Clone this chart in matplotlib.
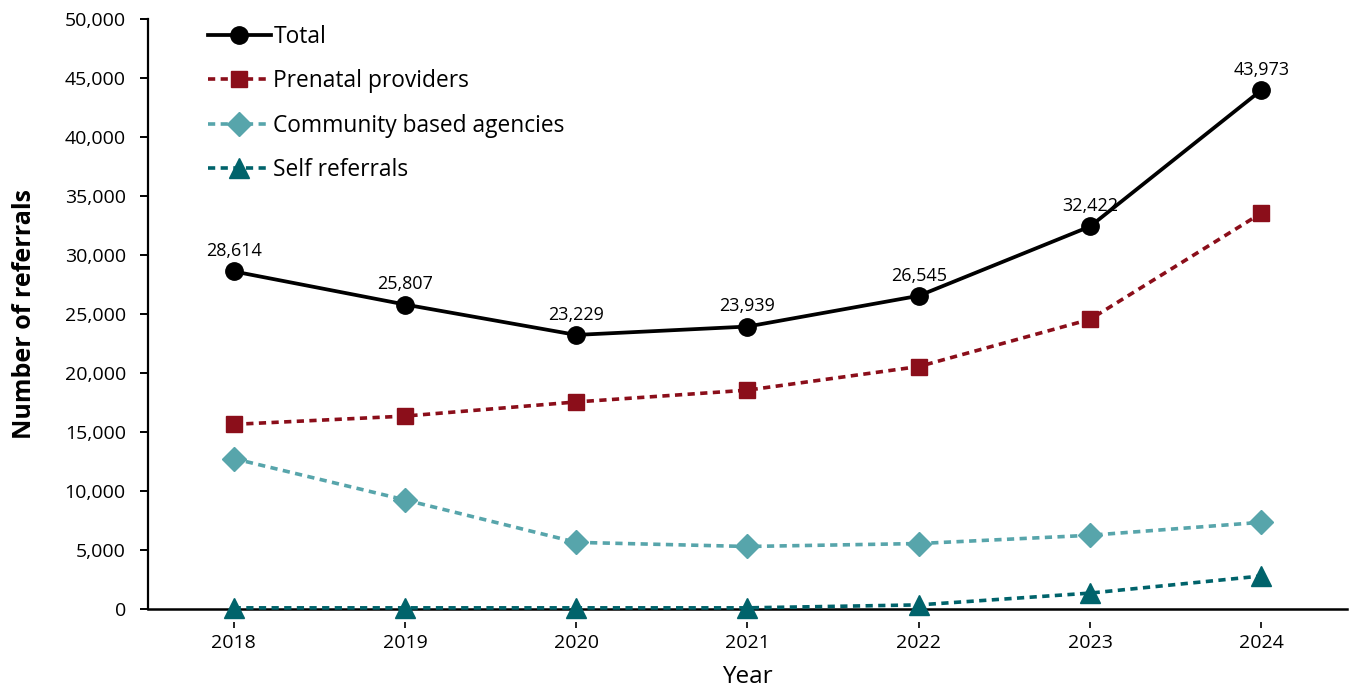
import matplotlib
matplotlib.use("Agg")
import matplotlib.pyplot as plt
from matplotlib.ticker import FuncFormatter, MultipleLocator

plt.rcParams['font.family'] = ['Open Sans', 'DejaVu Sans']

years = [2018, 2019, 2020, 2021, 2022, 2023, 2024]
total = [28614, 25807, 23229, 23939, 26545, 32422, 43973]
prenatal = [15650, 16350, 17550, 18550, 20550, 24550, 33550]
community = [12750, 9250, 5650, 5300, 5550, 6250, 7350]
self_referrals = [100, 100, 100, 100, 350, 1350, 2800]

c_total = "#000000"
c_prenatal = "#8B0E1A"
c_community = "#57A5AB"
c_self = "#00636B"

fig = plt.figure(figsize=(13.49, 6.87), dpi=100)
ax = fig.add_axes([0.1097, 0.1135, 0.8888, 0.8588])

dash = (0, (2.0, 1.5))
ax.plot(years, self_referrals, color=c_self, lw=2.6, ls=dash, marker="^",
        markersize=15, label="Self referrals", zorder=3, clip_on=False)
ax.plot(years, community, color=c_community, lw=2.6, ls=dash, marker="D",
        markersize=12, label="Community based agencies", zorder=3)
ax.plot(years, prenatal, color=c_prenatal, lw=2.6, ls=dash, marker="s",
        markersize=12, label="Prenatal providers", zorder=3)
ax.plot(years, total, color=c_total, lw=2.7, marker="o",
        markersize=12.5, label="Total", zorder=4)

for x, v in zip(years, total):
    ax.annotate(f"{v:,}", (x, v), xytext=(0, 8), textcoords="offset points",
                ha="center", va="bottom", fontsize=13)

ax.set_xlim(2017.5, 2024.5)
ax.set_ylim(0, 50000)
ax.yaxis.set_major_locator(MultipleLocator(5000))
ax.yaxis.set_major_formatter(FuncFormatter(lambda v, p: f"{int(v):,}"))
ax.set_xticks(years)

for s in ["top", "right"]:
    ax.spines[s].set_visible(False)
ax.spines["left"].set_linewidth(1.6)
# bottom spine shifted down so tick marks sit apart from the zero line
ax.spines["bottom"].set_position(("outward", 9))
ax.spines["bottom"].set_color("none")
ax.axhline(0, color="black", lw=1.8, zorder=2, clip_on=False)

ax.tick_params(axis="y", direction="out", length=6, width=1.4, labelsize=14, pad=10)
ax.tick_params(axis="x", direction="out", length=4, width=1.2, labelsize=14, pad=5)

ax.set_ylabel("Number of referrals", fontsize=18, fontweight="bold", labelpad=20)
ax.set_xlabel("Year", fontsize=17.5, labelpad=9)

handles, labels = ax.get_legend_handles_labels()
order = [3, 2, 1, 0]
ax.legend([handles[i] for i in order], [labels[i] for i in order],
          loc="upper left", bbox_to_anchor=(0.033, 1.025), frameon=False,
          fontsize=16.4, handlelength=2.75, handletextpad=0.12, labelspacing=0.9)

fig.savefig("out.png", dpi=100)
